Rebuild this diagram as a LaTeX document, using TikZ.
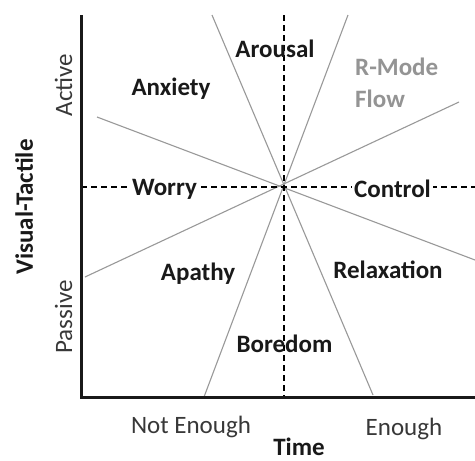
\documentclass[tikz,border=0pt]{standalone}
\usepackage{fontspec}
\setmainfont{Carlito}
\begin{document}
\begin{tikzpicture}[x=1pt,y=-1pt,
  ray/.style={draw=black!40, line width=1.1pt},
  guide/.style={draw=black, line width=1.5pt, dash pattern=on 6pt off 4pt},
  axis/.style={draw=black!90, line width=3pt},
  zone/.style={font=\fontsize{25}{28}\selectfont\bfseries, text=black!90, anchor=base, inner sep=0pt},
  side/.style={font=\fontsize{25}{28}\selectfont, text=black!78, anchor=base, inner sep=0pt},
  flow/.style={font=\fontsize{25}{28}\selectfont\bfseries, text=black!42, anchor=base west, inner sep=0pt}]
\useasboundingbox (0,0) rectangle (475,461);
\clip (0,0) rectangle (475,461);
\fill[white] (0,0) rectangle (475,461);
% coordinates
\coordinate (c) at (284,187);
\coordinate (a1) at (97,117);   \coordinate (b1) at (475,260);
\coordinate (a2) at (212,15);   \coordinate (b2) at (373,395);
\coordinate (a3) at (348,15);   \coordinate (b3) at (204,397);
\coordinate (a4) at (459,102);  \coordinate (b4) at (85,277);
\coordinate (vt) at (284,15);   \coordinate (vb) at (284,397);
\coordinate (hl) at (81,187);   \coordinate (hr) at (475,187);
\coordinate (o) at (81,397);    \coordinate (ytop) at (81,15);
\coordinate (xend) at (476,397);
% rays
\draw[ray] (a1) -- (b1);
\draw[ray] (a2) -- (b2);
\draw[ray] (a3) -- (b3);
\draw[ray] (a4) -- (b4);
% guides
\draw[guide] (vt) -- (vb);
\draw[guide] (hl) -- (hr);
% axes
\draw[axis] (ytop) -- (o) -- (xend);
% zone labels
\node[zone] (arousal) at (275,57) {Arousal};
\node[zone] (anxiety) at (171,95) {Anxiety};
\node[flow] (rmode) at (355,75) {R-Mode};
\node[flow] (flowl) at (355,107) {Flow};
\node[zone, fill=white, inner xsep=2pt, inner ysep=0pt] (worry) at (164.5,195) {Worry};
\node[zone, fill=white, inner xsep=2pt, inner ysep=0pt] (control) at (392.5,197) {Control};
\node[zone] (apathy) at (198,280) {Apathy};
\node[zone] (relax) at (388,278) {Relaxation};
\node[zone] (boredom) at (284.5,352) {Boredom};
% axis labels
\node[side, rotate=90] (active) at (72,85) {Active};
\node[side, rotate=90] (passive) at (72,317) {Passive};
\node[zone, rotate=90] (vtac) at (33,207) {Visual-Tactile};
\node[side] (notenough) at (191,433) {Not Enough};
\node[side] (enough) at (404,435) {Enough};
\node[zone] (time) at (299,455) {Time};
\end{tikzpicture}
\end{document}
